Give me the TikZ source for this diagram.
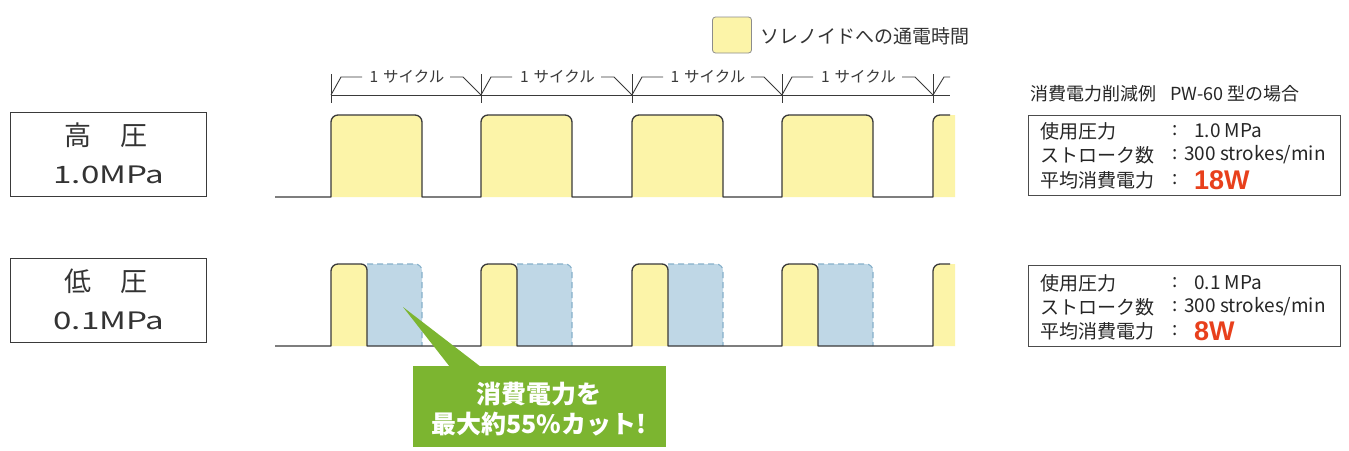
\documentclass[tikz,border=0pt]{standalone}
\usepackage{fontspec}
\usepackage{graphicx}
\setmainfont{Noto Sans CJK JP}
\newfontfamily\jp{Noto Sans CJK JP}
\newfontfamily\arialb{Liberation Sans}
\definecolor{pyel}{HTML}{FCF4A8}
\definecolor{pblue}{HTML}{BFD7E6}
\definecolor{pbluedash}{HTML}{86B0CA}
\definecolor{lineg}{HTML}{3A3A3A}
\definecolor{cgreen}{HTML}{7CB530}
\definecolor{wred}{HTML}{E8401C}
\tikzset{
  sig/.style={draw=lineg, line width=1.3pt, line join=round},
  lbox/.style={draw=lineg, line width=1pt, fill=white},
  cyc/.style={draw=lineg, line width=0.9pt},
  cyctext/.style={font=\jp\fontsize{15.5}{15.5}\selectfont, text=lineg, inner sep=0pt},
  rtext/.style={font=\jp\fontsize{19}{19}\selectfont, text=black!85, inner sep=0pt, anchor=west},
}
\begin{document}
\begin{tikzpicture}[x=1pt,y=-1pt]
\useasboundingbox (0,0) rectangle (1349,450);
\fill[white] (0,0) rectangle (1349,450);

% legend
\node[draw=black!45, fill=pyel, rounded corners=3pt, minimum width=39pt, minimum height=36pt, line width=0.8pt] (legsq) at (732,35) {};
\node[font=\jp\fontsize{19}{19}\selectfont, text=black!80, anchor=west, inner sep=0pt] (legtx) at (760,36) {ソレノイドへの通電時間};

% cycle markers
\draw[cyc] (331,95) -- (950,95);
\foreach \t [count=\i] in {331,481,632,782,933}{
  \coordinate (tk\i) at (\t,95);
  \draw[cyc] (\t,74) -- (\t,103);
}
\foreach \a/\b [count=\i] in {331/481,481/632,632/782,782/933}{
  \node[cyctext] (cl\i) at ({(\a+\b)/2+1},77) {1\hspace{5pt}サイクル};
  \draw[cyc] (\a,95) -- (\a+10,77) -- (\a+31,77);
  \draw[cyc] (\b-31,77) -- (\b-18,77) -- (\b,95);
}
\draw[cyc] (933,95) -- (944,77) -- (950,77);

% ---- high pressure signal ----
\foreach \a in {331,481,632,782}{
  \fill[pyel] (\a,197) -- (\a,122) arc[start angle=180,end angle=270,radius=7] -- (\a+84,115) arc[start angle=-90,end angle=0,radius=7] -- (\a+91,197) -- cycle;
}
\fill[pyel] (933,197) -- (933,122) arc[start angle=180,end angle=270,radius=7] -- (955,115) -- (955,197) -- cycle;
\draw[sig] (275,197)
  foreach \a in {331,481,632,782}{ -- (\a,197) -- (\a,122) arc[start angle=180,end angle=270,radius=7] -- (\a+84,115) arc[start angle=-90,end angle=0,radius=7] -- (\a+91,197) }
  -- (933,197) -- (933,122) arc[start angle=180,end angle=270,radius=7] -- (950,115);

% ---- low pressure signal ----
\foreach \a in {331,481,632,782}{
  \fill[pblue] (\a+36,346) -- (\a+36,264) -- (\a+84,264) arc[start angle=-90,end angle=0,radius=7] -- (\a+91,346) -- cycle;
  \draw[pbluedash, line width=1.1pt, dash pattern=on 6pt off 4pt] (\a+36,264) -- (\a+84,264) arc[start angle=-90,end angle=0,radius=7] -- (\a+91,346);
  \fill[pyel] (\a,346) -- (\a,271) arc[start angle=180,end angle=270,radius=7] -- (\a+30,264) arc[start angle=-90,end angle=0,radius=6] -- (\a+36,346) -- cycle;
}
\fill[pyel] (933,346) -- (933,271) arc[start angle=180,end angle=270,radius=7] -- (955,264) -- (955,346) -- cycle;
\draw[sig] (275,346)
  foreach \a in {331,481,632,782}{ -- (\a,346) -- (\a,271) arc[start angle=180,end angle=270,radius=7] -- (\a+30,264) arc[start angle=-90,end angle=0,radius=6] -- (\a+36,346) }
  -- (933,346) -- (933,271) arc[start angle=180,end angle=270,radius=7] -- (950,264);

% ---- left labels ----
\node[lbox, minimum width=196pt, minimum height=84pt] (hp) at (108,154) {};
\node[font=\jp\fontsize{27}{27}\selectfont, text=black!80, inner sep=0pt] (hpa) at (106,135) {高\hspace{30pt}圧};
\node[font=\jp\fontsize{24}{24}\selectfont, text=black!80, inner sep=0pt] (hpb) at (109,175) {\scalebox{1.38}[1]{1.0MPa}};
\node[lbox, minimum width=196pt, minimum height=84pt] (lp) at (108,300) {};
\node[font=\jp\fontsize{27}{27}\selectfont, text=black!80, inner sep=0pt] (lpa) at (106,281) {低\hspace{30pt}圧};
\node[font=\jp\fontsize{24}{24}\selectfont, text=black!80, inner sep=0pt] (lpb) at (109,321) {\scalebox{1.38}[1]{0.1MPa}};

% ---- right info ----
\node[font=\jp\fontsize{18}{18}\selectfont, text=black!85, anchor=west, inner sep=0pt] (hdr) at (1030,94) {消費電力削減例\hspace{14pt}PW-60 型の場合};
\node[draw=black!70, line width=1pt, minimum width=312pt, minimum height=80pt] (rb1) at (1184,155) {};
\node[rtext] (r1a) at (1040,131) {使用圧力};
\node[rtext] (r1b) at (1172,131) {:};
\node[rtext] (r1c) at (1194,131) {1.0 MPa};
\node[rtext] (r1d) at (1040,155) {ストローク数};
\node[rtext] (r1e) at (1172,155) {:};
\node[rtext] (r1f) at (1184,155) {300 strokes/min};
\node[rtext] (r1g) at (1040,180) {平均消費電力};
\node[rtext] (r1h) at (1172,180) {:};
\node[anchor=west, inner sep=0pt, font=\arialb\bfseries\fontsize{27}{27}\selectfont, text=wred] (r1i) at (1194,180) {18W};

\node[draw=black!70, line width=1pt, minimum width=312pt, minimum height=81pt] (rb2) at (1184,306) {};
\node[rtext] (r2a) at (1040,283) {使用圧力};
\node[rtext] (r2b) at (1172,283) {:};
\node[rtext] (r2c) at (1194,283) {0.1 MPa};
\node[rtext] (r2d) at (1040,307) {ストローク数};
\node[rtext] (r2e) at (1172,307) {:};
\node[rtext] (r2f) at (1184,307) {300 strokes/min};
\node[rtext] (r2g) at (1040,331) {平均消費電力};
\node[rtext] (r2h) at (1172,331) {:};
\node[anchor=west, inner sep=0pt, font=\arialb\bfseries\fontsize{27}{27}\selectfont, text=wred] (r2i) at (1194,331) {8W};

% ---- green callout ----
\coordinate (tip) at (403,307);
\node[fill=cgreen, minimum width=253pt, minimum height=81pt, inner sep=0pt] (call) at (539,406) {};
\fill[cgreen] (tip) -- (450,367) -- (481,367) -- cycle;
\node[font=\jp\bfseries\fontsize{25}{30}\selectfont, text=white, align=center, inner sep=0pt] (calltx) at (539,409) {消費電力を\\最大約55\%カット!};
\end{tikzpicture}
\end{document}
